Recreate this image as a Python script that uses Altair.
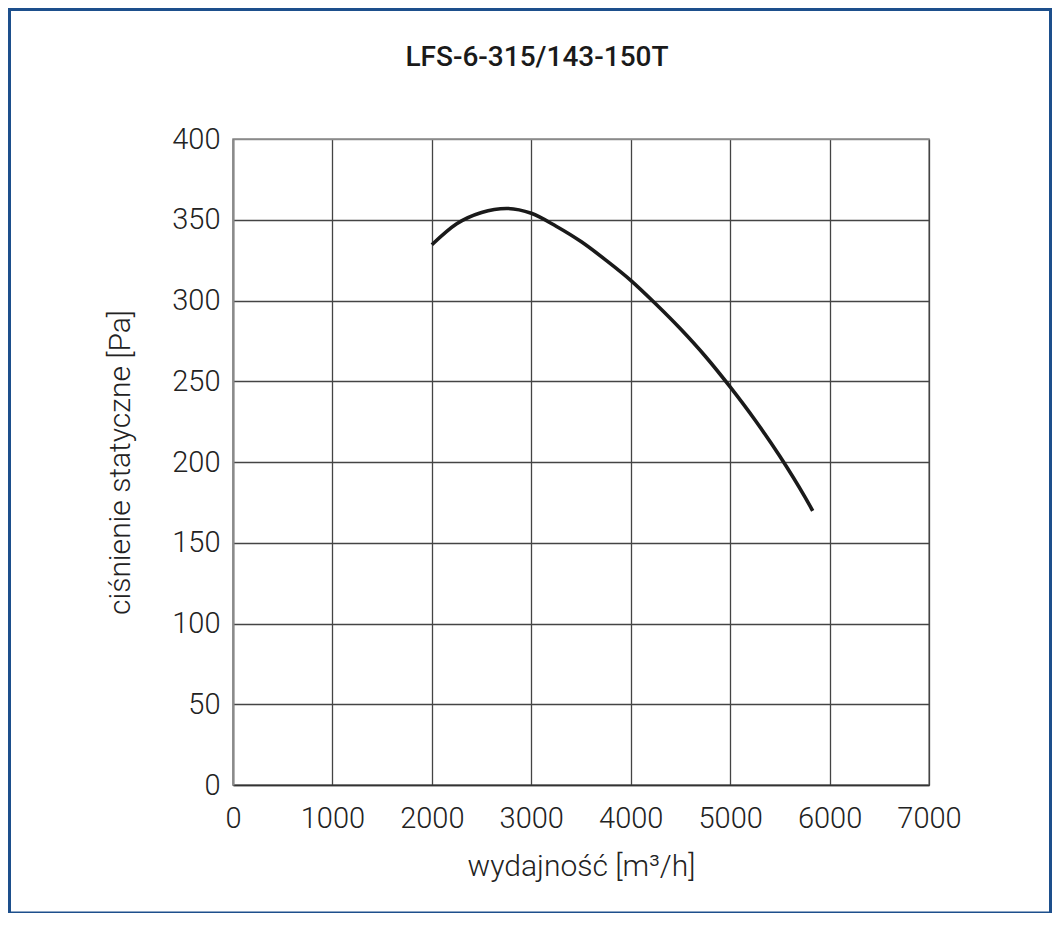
import pandas as pd
import altair as alt

# curve (airflow m3/h, static pressure Pa)
flow = [2000, 2250, 2500, 2750, 3000, 3250, 3500, 3750, 4000, 4250, 4500, 4750, 5000, 5250, 5500, 5750, 5830]
pressure = [334.5, 347.5, 354.5, 357, 354, 346, 336.5, 325, 312.5, 298, 282.5, 265.5, 246.5, 226, 203.5, 178.5, 169.8]

x_ticks = [0, 1000, 2000, 3000, 4000, 5000, 6000, 7000]
y_ticks = [0, 50, 100, 150, 200, 250, 300, 350, 400]

title_text = "LFS-6-315/143-150T"
x_title = "wydajność [m³/h]"
y_title = "ciśnienie statyczne [Pa]"

FONT = "Roboto"

df = pd.DataFrame({"flow": flow, "pressure": pressure})

curve = alt.Chart(df).mark_line(
    color="#1a1a1a", strokeWidth=3.6, interpolate="monotone", strokeCap="butt"
).encode(
    x=alt.X("flow:Q",
            scale=alt.Scale(domain=[0, 7000], nice=False),
            axis=alt.Axis(values=x_ticks, format="d", title=x_title, grid=True,
                          labelFlush=False, labelOverlap=False,
                          gridColor={"condition": {"test": "datum.value === 0", "value": "#333"},
                                     "value": "#444"},
                          domainColor="#333", labelPadding=19, titlePadding=18)),
    y=alt.Y("pressure:Q",
            scale=alt.Scale(domain=[0, 400], nice=False),
            axis=alt.Axis(values=y_ticks, format="d", title=y_title, grid=True,
                          labelFlush=False, labelOverlap=False,
                          gridColor={"condition": {"test": "datum.value === 400", "value": "#8a8a8a"},
                                     "value": "#444"},
                          domainColor="#8a8a8a", domainWidth=2, labelPadding=13, titlePadding=36)),
)

# chart heading, placed over the middle of the picture
heading = alt.Chart(pd.DataFrame({"t": [title_text]})).mark_text(
    font=FONT, fontSize=28, fontWeight=500, color="#1a1a1a",
    align="center", baseline="middle"
).encode(
    text="t:N", x=alt.value(304), y=alt.value(-81)
)

# blue frame round the whole picture
frame = alt.Chart(pd.DataFrame({"a": [0]})).mark_rect(
    filled=False, stroke="#1d4f8c", strokeWidth=3
).encode(
    x=alt.value(-223.5), x2=alt.value(817.5),
    y=alt.value(-129.5), y2=alt.value(774)
)

chart = alt.layer(curve, heading, frame).properties(
    width=696,
    height=646,
    autosize=alt.AutoSizeParams(type="none"),
    padding={"left": 225, "top": 131, "right": 123, "bottom": 128},
).configure_axis(
    labelFont=FONT, labelFontSize=29, labelFontWeight=300, labelColor="#222",
    titleFont=FONT, titleFontSize=30, titleFontWeight=300, titleColor="#222",
    ticks=False, gridWidth=1.3, domainWidth=1.5,
).configure_view(
    stroke="#8a8a8a", strokeWidth=1.5
)

chart.save("out.html", embed_options={"renderer": "svg", "actions": False})
